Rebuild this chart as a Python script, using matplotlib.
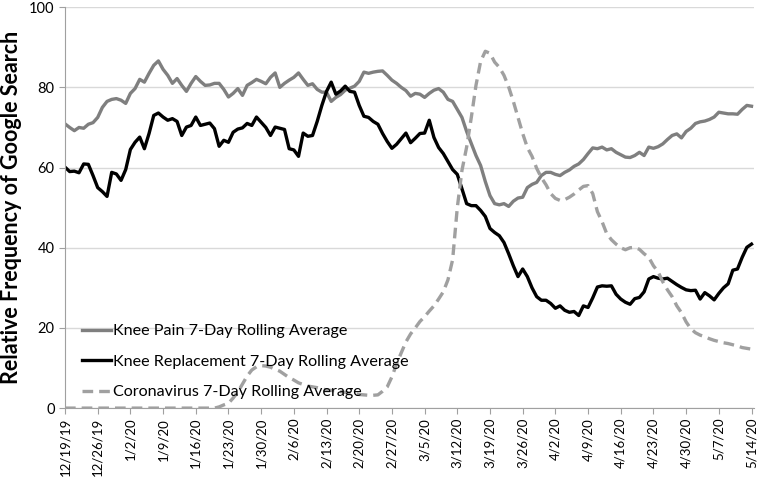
import matplotlib
matplotlib.use('Agg')
import matplotlib.pyplot as plt
import pandas as pd

plt.rcParams['font.family'] = ['Lato', 'DejaVu Sans']

dates = pd.date_range('2019-12-19', '2020-05-14', freq='D')

knee_pain = [
    70.9, 70.0, 69.2, 70.0, 69.8, 70.8, 71.2, 72.5, 75.0, 76.5,
    77.0, 77.2, 76.8, 76.0, 78.5, 79.7, 82.0, 81.3, 83.5, 85.5,
    86.6, 84.5, 83.0, 81.0, 82.2, 80.5, 79.0, 81.0, 82.7, 81.5,
    80.5, 80.6, 81.0, 81.0, 79.5, 77.6, 78.5, 79.7, 78.0, 80.5,
    81.2, 82.0, 81.5, 80.9, 82.5, 83.6, 80.0, 81.0, 81.8, 82.5,
    83.6, 82.0, 80.5, 80.9, 79.5, 78.8, 78.8, 76.5, 77.5, 78.2,
    79.3, 79.8, 80.3, 81.5, 83.8, 83.5, 83.8, 84.0, 84.1, 83.0,
    81.8, 81.0, 80.0, 79.2, 77.8, 78.5, 78.3, 77.5, 78.5, 79.3,
    79.7, 78.8, 77.0, 76.5, 74.5, 72.5, 69.0, 66.0, 63.0, 60.5,
    56.5, 53.0, 51.0, 50.7, 51.0, 50.3, 51.6, 52.4, 52.6, 55.0,
    55.8, 56.3, 58.0, 58.8, 58.8, 58.3, 58.0, 58.8, 59.4, 60.3,
    60.9, 62.0, 63.5, 64.9, 64.7, 65.1, 64.4, 64.7, 63.8, 63.2,
    62.6, 62.5, 63.0, 63.8, 63.0, 65.1, 64.8, 65.2, 65.9, 67.0,
    68.0, 68.4, 67.4, 69.0, 69.8, 71.0, 71.4, 71.6, 72.0, 72.6,
    73.8, 73.6, 73.4, 73.4, 73.3, 74.5, 75.5, 75.3,
]

knee_replacement = [
    60.1, 59.0, 59.1, 58.7, 60.9, 60.8, 58.0, 55.0, 54.0, 52.8,
    58.8, 58.4, 56.8, 59.5, 64.5, 66.3, 67.6, 64.7, 68.5, 73.0,
    73.6, 72.6, 71.8, 72.2, 71.5, 68.0, 70.1, 70.5, 72.6, 70.5,
    70.8, 71.1, 69.7, 65.3, 66.8, 66.3, 68.8, 69.6, 69.9, 71.0,
    70.5, 72.6, 71.3, 70.0, 68.0, 70.1, 69.8, 69.5, 64.7, 64.4,
    62.8, 68.6, 67.8, 68.0, 71.5, 75.5, 79.0, 81.3, 78.3, 79.1,
    80.3, 79.0, 78.8, 75.5, 72.8, 72.5, 71.5, 70.8, 68.5, 66.5,
    64.8, 65.8, 67.2, 68.6, 66.2, 67.3, 68.5, 68.6, 71.8, 67.5,
    65.0, 63.5, 61.5, 59.5, 58.3, 54.7, 51.0, 50.5, 50.5, 49.3,
    47.8, 44.8, 43.8, 43.0, 41.3, 38.5, 35.5, 32.8, 34.7, 32.8,
    30.0, 27.8, 26.9, 26.9, 26.1, 24.9, 25.5, 24.4, 23.9, 24.1,
    23.1, 25.5, 25.1, 27.5, 30.2, 30.5, 30.4, 30.5, 28.4, 27.2,
    26.4, 25.9, 27.3, 27.6, 29.0, 32.2, 32.8, 32.4, 32.2, 32.4,
    31.6, 30.8, 30.1, 29.5, 29.3, 29.4, 27.2, 28.8, 28.0, 27.0,
    28.6, 30.0, 31.0, 34.4, 34.7, 37.6, 40.1, 40.9,
]

coronavirus = [
    0, 0, 0, 0, 0, 0, 0, 0, 0, 0,
    0, 0, 0, 0, 0, 0, 0, 0, 0, 0,
    0, 0, 0, 0, 0, 0, 0, 0, 0, 0,
    0, 0, 0, 0.3, 0.8, 1.2, 2.5, 4.0, 6.0, 8.0,
    9.5, 10.3, 10.6, 10.5, 10.2, 9.7, 9.2, 8.4, 7.6, 7.0,
    6.3, 5.9, 5.5, 5.3, 5.1, 4.8, 4.5, 4.4, 4.3, 4.1,
    3.9, 3.8, 3.6, 3.4, 3.3, 3.2, 3.2, 3.3, 4.2, 5.3,
    7.8, 11.0, 13.8, 16.5, 18.5, 20.0, 21.6, 22.8, 24.2, 25.5,
    27.2, 29.0, 32.0, 37.0, 50.0, 59.3, 65.1, 72.5, 80.5, 86.5,
    89.0, 88.5, 86.3, 85.0, 83.0, 80.1, 76.5, 72.5, 68.5, 65.0,
    62.8, 59.8, 57.5, 55.7, 53.5, 52.3, 51.8, 52.0, 52.6, 53.4,
    54.4, 55.3, 55.5, 53.5, 49.0, 46.5, 43.5, 42.0, 40.9, 40.0,
    39.5, 40.0, 40.1, 39.6, 38.5, 37.6, 35.5, 34.0, 31.5, 29.5,
    27.8, 25.5, 23.8, 21.5, 19.8, 18.8, 18.2, 17.8, 17.3, 16.9,
    16.6, 16.3, 16.1, 15.8, 15.5, 15.1, 14.9, 14.7,
]

tick_dates = dates[::7]
tick_labels = [f'{d.month}/{d.day}/{d.year % 100}' for d in tick_dates]

fig = plt.figure(figsize=(7.62, 4.79), dpi=100)
ax = fig.add_axes([0.0853, 0.148, 0.904, 0.837])

ax.plot(dates, knee_pain, color='#7f7f7f', lw=2.4, label='Knee Pain 7-Day Rolling Average')
ax.plot(dates, knee_replacement, color='black', lw=2.4, label='Knee Replacement 7-Day Rolling Average')
ax.plot(dates, coronavirus, color='#a0a0a0', lw=2.4, ls=(0, (3.2, 1.8)), label='Coronavirus 7-Day Rolling Average')

ax.set_ylim(0, 100)
ax.set_yticks([0, 20, 40, 60, 80, 100])
ax.set_xlim(dates[0], dates[-1] + pd.Timedelta(hours=12))
ax.set_xticks(tick_dates)
ax.set_xticklabels(tick_labels, rotation=90)
ax.tick_params(axis='both', colors='#a0a0a0', labelcolor='black', length=4)
ax.tick_params(axis='y', labelsize=10.5)
ax.tick_params(axis='x', labelsize=9.5, pad=3)
ax.grid(axis='y', color='#d9d9d9', lw=1)
ax.set_axisbelow(True)
for s in ['top', 'right']:
    ax.spines[s].set_visible(False)
for s in ['left', 'bottom']:
    ax.spines[s].set_color('#a0a0a0')

ax.set_ylabel('Relative Frequency of Google Search', fontsize=15.5, fontweight='bold', labelpad=5)

ax.legend(loc='lower left', bbox_to_anchor=(0.012, 0.0), frameon=False, fontsize=11.6,
          handlelength=1.8, handletextpad=0.1, labelspacing=1.0, borderaxespad=0.15)

fig.savefig('out.png', dpi=100)
